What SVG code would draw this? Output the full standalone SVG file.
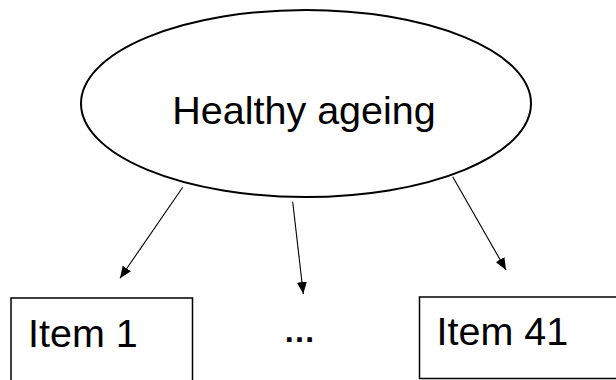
<svg xmlns="http://www.w3.org/2000/svg" width="616" height="380" viewBox="0 0 616 380">
<style>
.lbl{font-family:"Liberation Sans",Arial,sans-serif;font-size:39.5px;fill:#000}
.box{fill:#fff;stroke:#000;stroke-width:1.5}
.edge{stroke:#000;stroke-width:1.1;fill:none;marker-end:url(#ah)}
</style>
<defs>
<marker id="ah" viewBox="0 0 12 10" refX="12" refY="5" markerWidth="12" markerHeight="10" markerUnits="userSpaceOnUse" orient="auto">
<path d="M0,0 L12,5 L0,10 Z" fill="#000"/>
</marker>
</defs>
<rect width="616" height="380" fill="#fff"/>
<g id="root">
<ellipse cx="306" cy="103.5" rx="225" ry="93.5" fill="#fff" stroke="#000" stroke-width="2"/>
<text class="lbl" x="304" y="124" text-anchor="middle">Healthy ageing</text>
</g>
<g id="item1">
<rect class="box" x="11" y="298" width="181.5" height="90"/>
<text class="lbl" x="28" y="346.5">Item 1</text>
</g>
<g id="ellipsis">
<text class="lbl" x="299.5" y="342" text-anchor="middle" style="font-size:32px;font-weight:bold">…</text>
</g>
<g id="item41">
<rect class="box" x="419.5" y="297" width="210" height="81.5"/>
<text class="lbl" x="436.5" y="345">Item 41</text>
</g>
<g id="connectors">
<line class="edge" x1="182.7" y1="187.3" x2="120" y2="278.3"/>
<line class="edge" x1="292.7" y1="201.7" x2="303.3" y2="294"/>
<line class="edge" x1="452.7" y1="176.7" x2="506" y2="270"/>
</g>
</svg>
